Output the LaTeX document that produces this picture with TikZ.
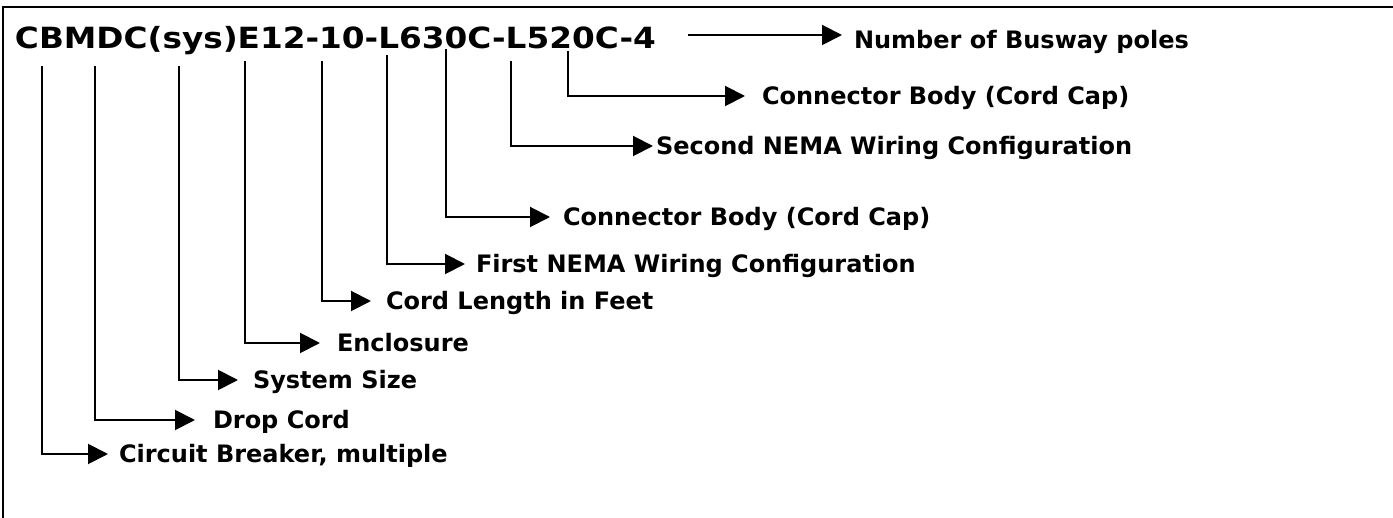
\documentclass[tikz,border=0pt]{standalone}
\usepackage{fontspec}
\setmainfont{DejaVu Sans}
\usetikzlibrary{arrows.meta}
\begin{document}
\begin{tikzpicture}[
    x={(0.5pt,0pt)}, y={(0pt,-0.5pt)},
    line width=1pt,
    every node/.style={font=\bfseries\fontsize{12pt}{14pt}\selectfont,inner sep=0pt},
    lbl/.style={anchor=west,text height=8.75pt,text depth=0pt},
    leader/.style={-{Triangle[length=10pt,width=10pt]}}]
    \useasboundingbox (0,0) rectangle (1393,518);
    \draw (1393,7) -- (3,7) -- (3,518);
    \node[anchor=base west,font=\bfseries\fontsize{14.6pt}{18pt}\selectfont] (code) at (14,49)
        {\scalebox{1.12}[1]{CBMDC(sys)E12-10-L630C-L520C-4}};
    \node[lbl] (poles) at (853,40) {Number of Busway poles};
    \node[lbl] (cap2) at (761,96) {Connector Body (Cord Cap)};
    \node[lbl] (nema2) at (655,146) {Second NEMA Wiring Configuration};
    \node[lbl] (cap1) at (562,217) {Connector Body (Cord Cap)};
    \node[lbl] (nema1) at (475,264) {First NEMA Wiring Configuration};
    \node[lbl] (len) at (385,301) {Cord Length in Feet};
    \node[lbl] (encl) at (336,343) {Enclosure};
    \node[lbl] (size) at (252,380) {System Size};
    \node[lbl] (drop) at (212,420) {Drop Cord};
    \node[lbl] (cb) at (118,454) {Circuit Breaker, multiple};
    \coordinate (poles-s) at (688,35);
    \coordinate (cap2-s) at (568,51);
    \coordinate (nema2-s) at (511,61);
    \coordinate (cap1-s) at (446,49);
    \coordinate (nema1-s) at (387,55);
    \coordinate (len-s) at (322,61);
    \coordinate (encl-s) at (245,61);
    \coordinate (size-s) at (179,66);
    \coordinate (drop-s) at (95,66);
    \coordinate (cb-s) at (42,66);
    \draw[leader,shorten >=5.5pt] (poles-s) -- (poles-s -| poles.west);
    \draw[leader,shorten >=8pt] (cap2-s) |- (cap2.west);
    \draw[leader,shorten >=1pt] (nema2-s) |- (nema2.west);
    \draw[leader,shorten >=6pt] (cap1-s) |- (cap1.west);
    \draw[leader,shorten >=5pt] (nema1-s) |- (nema1.west);
    \draw[leader,shorten >=7pt] (len-s) |- (len.west);
    \draw[leader,shorten >=8pt] (encl-s) |- (encl.west);
    \draw[leader,shorten >=7pt] (size-s) |- (size.west);
    \draw[leader,shorten >=8.5pt] (drop-s) |- (drop.west);
    \draw[leader,shorten >=5pt] (cb-s) |- (cb.west);
\end{tikzpicture}
\end{document}
